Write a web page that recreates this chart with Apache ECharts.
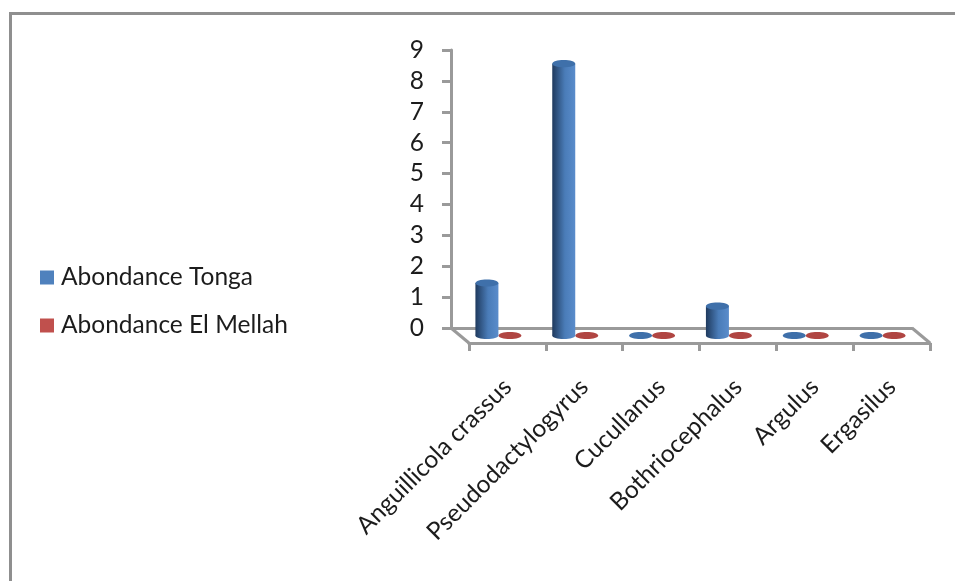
<!DOCTYPE html>
<html>
<head>
<meta charset="utf-8">
<style>html,body{margin:0;padding:0;background:#fff}#chart{width:955px;height:581px}</style>
<script src="https://cdn.jsdelivr.net/npm/echarts@6/dist/echarts.min.js"></script>
</head>
<body>
<div id="chart"></div>
<script>
const categories = ['Anguillicola crassus', 'Pseudodactylogyrus', 'Cucullanus', 'Bothriocephalus', 'Argulus', 'Ergasilus'];
const tonga = [1.7, 8.8, 0, 0.95, 0, 0];
const elMellah = [0, 0, 0, 0, 0, 0];
const yTicks = [0, 9];

const FONT = 'Lato';
const AXIS = '#9a9a9a';
const TEXT = '#1c1c1c';
const DEPTH_X = 18, DEPTH_Y = 15;

// Cylinder standing on the floor, halfway between back wall and front edge.
function cylinder(shift, dark, mid, light, cap) {
  return function (params, api) {
    const top = api.coord([api.value(0), api.value(1)]);
    const base = api.coord([api.value(0), 0]);
    const cx = top[0] + shift + DEPTH_X / 2;
    const yTop = top[1] + DEPTH_Y / 2;
    const yBase = base[1] + DEPTH_Y / 2;
    const rx = 11.5, ry = 3.6;
    const fill = {
      type: 'linear', x: 0, y: 0, x2: 1, y2: 0,
      colorStops: [
        { offset: 0, color: dark },
        { offset: 0.55, color: mid },
        { offset: 1, color: light }
      ]
    };
    const children = [];
    if (yBase - yTop > 1) {
      children.push(
        { type: 'ellipse', shape: { cx, cy: yBase, rx, ry }, style: { fill } },
        { type: 'rect', shape: { x: cx - rx, y: yTop, width: rx * 2, height: yBase - yTop }, style: { fill } },
        { type: 'ellipse', shape: { cx, cy: yTop, rx, ry }, style: { fill: cap } }
      );
    } else {
      children.push({ type: 'ellipse', shape: { cx, cy: yBase, rx, ry }, style: { fill: cap } });
    }
    return { type: 'group', children };
  };
}

// Floor edges that join the back axis to the front axis.
function floor(params) {
  const g = params.coordSys;
  const x0 = g.x, x1 = g.x + g.width, y = g.y + g.height;
  const line = { stroke: AXIS, lineWidth: 3, fill: null };
  return {
    type: 'group',
    children: [
      { type: 'line', shape: { x1: x0, y1: y, x2: x0 + DEPTH_X, y2: y + DEPTH_Y }, style: line },
      { type: 'line', shape: { x1: x1, y1: y, x2: x1 + DEPTH_X, y2: y + DEPTH_Y }, style: line }
    ]
  };
}

const chart = echarts.init(document.getElementById('chart'), null, { renderer: 'canvas' });
chart.setOption({
  animation: false,
  backgroundColor: '#fff',
  textStyle: { fontFamily: FONT },
  legend: {
    orient: 'vertical',
    left: 35,
    top: 260,
    itemWidth: 14,
    itemHeight: 14,
    itemGap: 23,
    icon: 'rect',
    selectedMode: false,
    textStyle: { fontFamily: FONT, fontSize: 24.5, color: TEXT, padding: [0, 0, 0, 2] },
    data: ['Abondance Tonga', 'Abondance El Mellah']
  },
  grid: [
    { left: 451, top: 50, width: 461, height: 278 },
    { left: 469, top: 65, width: 461, height: 278 }
  ],
  xAxis: [
    {
      type: 'category', gridIndex: 0, data: categories,
      axisLine: { lineStyle: { color: AXIS, width: 3 } },
      axisTick: { show: false }, axisLabel: { show: false }
    },
    {
      type: 'category', gridIndex: 1, data: categories,
      axisLine: { lineStyle: { color: AXIS, width: 3 } },
      axisTick: { show: true, alignWithLabel: false, length: 8, lineStyle: { color: AXIS, width: 3 } },
      axisLabel: {
        interval: 0, rotate: 45, fontFamily: FONT, fontSize: 24.5, color: TEXT, margin: 40,
        align: 'right', verticalAlign: 'middle'
      }
    }
  ],
  yAxis: [
    {
      type: 'value', gridIndex: 0, min: yTicks[0], max: yTicks[1], interval: 1,
      splitLine: { show: false },
      axisLine: { show: true, lineStyle: { color: AXIS, width: 3 } },
      axisTick: { show: true, length: 9, lineStyle: { color: AXIS, width: 3 } },
      axisLabel: { fontFamily: FONT, fontSize: 24.5, color: TEXT, margin: 27 }
    },
    {
      type: 'value', gridIndex: 1, min: yTicks[0], max: yTicks[1], interval: 1, show: false,
      splitLine: { show: false }
    }
  ],
  series: [
    {
      type: 'custom', name: 'floor', xAxisIndex: 0, yAxisIndex: 0, silent: true, z: 1,
      renderItem: floor, data: [0], legendHoverLink: false
    },
    {
      type: 'custom', name: 'Abondance Tonga', xAxisIndex: 0, yAxisIndex: 0, z: 3,
      itemStyle: { color: '#4f81bd' },
      renderItem: cylinder(-11.5, '#1f3a5e', '#4a7cb8', '#5a8ccb', '#3f70aa'),
      encode: { x: 0, y: 1 },
      data: tonga.map((v, i) => [i, v])
    },
    {
      type: 'custom', name: 'Abondance El Mellah', xAxisIndex: 0, yAxisIndex: 0, z: 2,
      itemStyle: { color: '#c0504d' },
      renderItem: cylinder(11.5, '#6e2523', '#bb4c49', '#c85a57', '#b04542'),
      encode: { x: 0, y: 1 },
      data: elMellah.map((v, i) => [i, v])
    }
  ],
  graphic: [
    {
      type: 'polyline', silent: true,
      shape: { points: [[10.5, 581], [10.5, 13.5], [955, 13.5]] },
      style: { stroke: '#8f8f8f', lineWidth: 3, fill: null }
    }
  ]
});
</script>
</body>
</html>
